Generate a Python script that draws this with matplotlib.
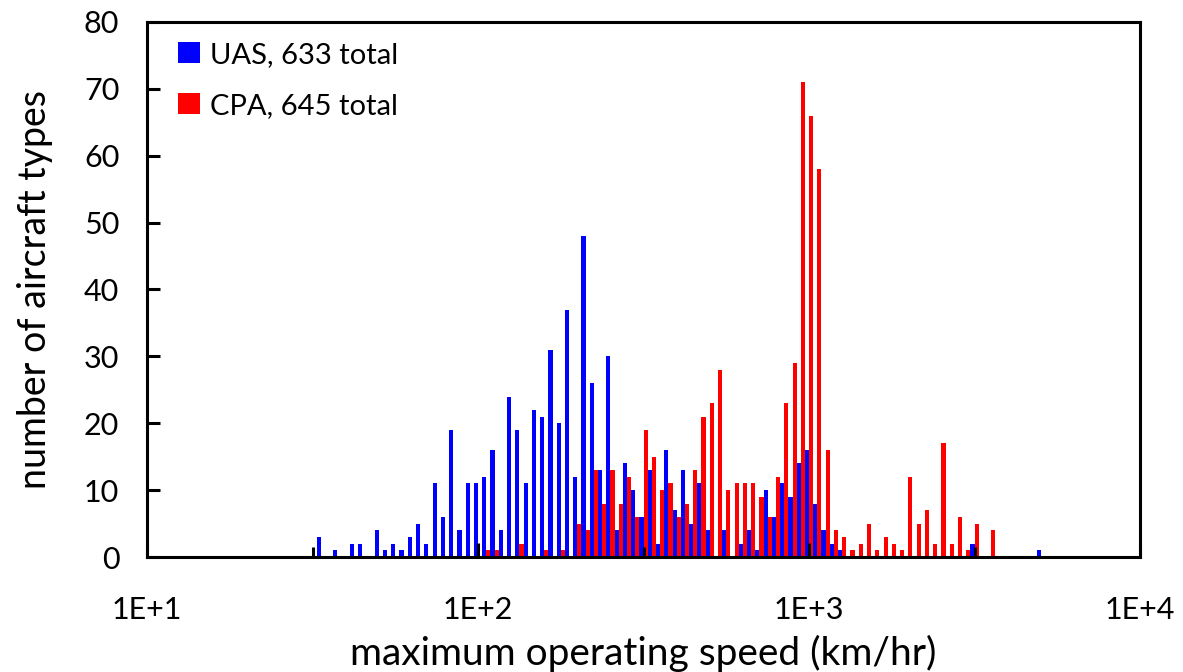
import numpy as np
import matplotlib
matplotlib.use('Agg')
import matplotlib.pyplot as plt
from matplotlib.ticker import FixedLocator, FixedFormatter, NullFormatter
from matplotlib.patches import Patch

plt.rcParams['font.family'] = ['Lato', 'DejaVu Sans']

# bins are 1/40 decade wide; first bin centre at 10**(61/40) km/hr
BIN_START = 61
BINS_PER_DECADE = 40

uas_counts = [
    3, 0, 1, 0, 2, 2, 0, 4, 1, 2,
    1, 3, 5, 2, 11, 6, 19, 4, 11, 11,
    12, 16, 4, 24, 19, 11, 22, 21, 31, 20,
    37, 12, 48, 26, 13, 30, 4, 14, 10, 6,
    13, 2, 16, 7, 13, 5, 11, 4, 0, 4,
    0, 2, 4, 1, 10, 6, 11, 9, 14, 16,
    8, 4, 2, 1, 0, 0, 0, 0, 0, 0,
    0, 0, 0, 0, 0, 0, 0, 0, 0, 2,
    0, 0, 0, 0, 0, 0, 0, 1,
]
cpa_counts = [
    0, 0, 0, 0, 0, 0, 0, 0, 0, 0,
    0, 0, 0, 0, 0, 0, 0, 0, 0, 0,
    1, 1, 0, 0, 2, 0, 0, 1, 0, 1,
    0, 5, 4, 13, 8, 13, 8, 12, 6, 19,
    15, 10, 11, 6, 8, 13, 21, 23, 28, 10,
    11, 11, 11, 9, 6, 12, 23, 29, 71, 66,
    58, 16, 4, 3, 1, 2, 5, 1, 3, 2,
    1, 12, 5, 7, 2, 17, 2, 6, 1, 5,
    0, 4, 0, 0, 0, 0, 0, 0,
]
uas_label = 'UAS, 633 total'
cpa_label = 'CPA, 645 total'
x_major = [1e1, 1e2, 1e3, 1e4]
x_major_labels = ['1E+1', '1E+2', '1E+3', '1E+4']
x_minor = [10 ** 1.5, 10 ** 2.5, 10 ** 3.5]

UAS_COLOR = '#0000ff'
CPA_COLOR = '#ff0000'

fig = plt.figure(figsize=(11.83, 6.72), dpi=100)
ax = fig.add_axes([0.1243, 0.1711, 0.8394, 0.7962])

centre = (BIN_START + np.arange(len(uas_counts))) / BINS_PER_DECADE
half = 0.5 / BINS_PER_DECADE

# clustered columns: UAS in left half of bin, CPA in right half
left = 10 ** (centre - half)
mid = 10 ** centre
right = 10 ** (centre + half)
ax.bar(left, uas_counts, width=mid - left, align='edge', color=UAS_COLOR, linewidth=0)
ax.bar(mid, cpa_counts, width=right - mid, align='edge', color=CPA_COLOR, linewidth=0)

ax.set_xscale('log')
ax.set_xlim(1e1, 1e4)
ax.set_ylim(0, 80)

ax.xaxis.set_major_locator(FixedLocator(x_major))
ax.xaxis.set_major_formatter(FixedFormatter(x_major_labels))
ax.xaxis.set_minor_locator(FixedLocator(x_minor))
ax.xaxis.set_minor_formatter(NullFormatter())
ax.set_yticks(np.arange(0, 81, 10))

ax.tick_params(axis='x', which='major', direction='in', length=10, width=2.2,
               labelsize=22, pad=28, top=False)
ax.tick_params(axis='x', which='minor', direction='in', length=7, width=2.2, top=False)
ax.tick_params(axis='y', direction='in', length=9, width=2.2, labelsize=22,
               pad=20, right=False)

for s in ax.spines.values():
    s.set_linewidth(2.2)

ax.set_xlabel('maximum operating speed (km/hr)', fontsize=28, labelpad=8)
ax.set_ylabel('number of aircraft types', fontsize=27, labelpad=22)

handles = [Patch(facecolor=UAS_COLOR, label=uas_label),
           Patch(facecolor=CPA_COLOR, label=cpa_label)]
ax.legend(handles=handles, loc='upper left', bbox_to_anchor=(0.005, 1.012),
          frameon=False, fontsize=21, handlelength=0.75, handleheight=0.75,
          handletextpad=0.35, labelspacing=0.85)

fig.savefig('out.png', dpi=100)
